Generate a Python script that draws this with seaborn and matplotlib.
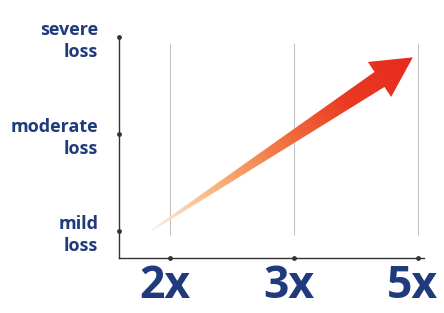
import numpy as np
import matplotlib
matplotlib.use("Agg")
import matplotlib.pyplot as plt
import matplotlib.transforms as mtransforms
import seaborn as sns
from matplotlib.patches import Polygon
from matplotlib.colors import LinearSegmentedColormap

sns.set_theme(style="white")
plt.rcParams['font.family'] = ['Open Sans', 'DejaVu Sans']

x_labels = ["2x", "3x", "5x"]
x_pos = [0, 1, 2]
y_labels = ["mild\nloss", "moderate\nloss", "severe\nloss"]
y_pos = [0, 1, 2]
arrow_x = [-0.14, 1.96]
arrow_y = [0.01, 1.79]

navy = "#1f3b7c"
fig = plt.figure(figsize=(4.44, 3.13), dpi=100)
ax = fig.add_axes([119/444, 55/313, 305/444, 221/313])
ax.set_xlim(-0.41, 2.05)
ax.set_ylim(-0.28, 2.0)

sns.despine(ax=ax)
for s in ["left", "bottom"]:
    ax.spines[s].set_color("#333333")
    ax.spines[s].set_linewidth(1.0)

ax.vlines(x_pos, -0.04, 1.94, color="#c4c4c4", lw=0.8)

ax.set_xticks(x_pos)
ax.set_xticklabels(x_labels, fontsize=32, fontweight="bold", color=navy)
ax.set_yticks(y_pos)
ax.set_yticklabels(y_labels, fontsize=13, fontweight="bold", color=navy,
                   linespacing=1.3)
ax.tick_params(axis="x", length=0, pad=4)
ax.tick_params(axis="y", length=0, pad=15)
shift = mtransforms.ScaledTranslation(-5/100, 0, fig.dpi_scale_trans)
for lab in ax.get_xticklabels():
    lab.set_transform(lab.get_transform() + shift)
ax.scatter(x_pos, [-0.28]*3, s=6, color="#333333", clip_on=False, zorder=5)
ax.scatter([-0.41]*3, y_pos, s=6, color="#333333", clip_on=False, zorder=5)

# gradient arrow built in pixel space
fig.canvas.draw()
T = ax.transData
p0 = T.transform((arrow_x[0], arrow_y[0]))
p1 = T.transform((arrow_x[1], arrow_y[1]))
d = (p1 - p0) / np.linalg.norm(p1 - p0)
n = np.array([-d[1], d[0]])
head_len, head_hw, w0, w1 = 40, 21, 0.8, 9.0
base = p1 - d * head_len
pts = [p0 + n*w0, base + n*w1, base + n*head_hw, p1,
       base - n*head_hw, base - n*w1, p0 - n*w0]
pts_data = T.inverted().transform(np.array(pts))
poly = Polygon(pts_data, closed=True, facecolor="none", edgecolor="none")
ax.add_patch(poly)

cmap = LinearSegmentedColormap.from_list("arr", ["#fdeedd", "#f7b27c", "#f27240", "#ea3a22", "#e62a1e"])
xs = np.linspace(ax.get_xlim()[0], ax.get_xlim()[1], 300)
ys = np.linspace(ax.get_ylim()[0], ax.get_ylim()[1], 300)
XX, YY = np.meshgrid(xs, ys)
P = T.transform(np.column_stack([XX.ravel(), YY.ravel()]))
t = ((P - p0) @ d) / np.linalg.norm(p1 - p0)
t = np.clip(t, 0, 1).reshape(XX.shape)
im = ax.imshow(t, extent=[xs[0], xs[-1], ys[0], ys[-1]], origin="lower",
               cmap=cmap, aspect="auto", zorder=3, interpolation="bilinear")
im.set_clip_path(poly)

fig.savefig("out.png", dpi=100)
